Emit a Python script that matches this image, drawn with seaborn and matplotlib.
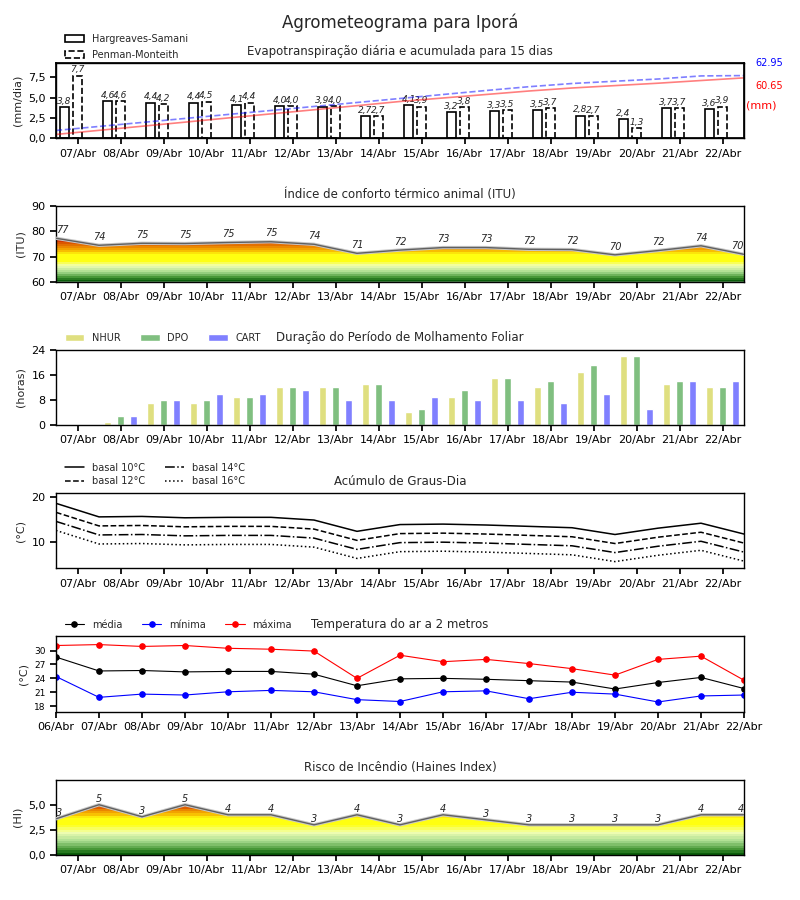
import numpy as np
import pandas as pd
import matplotlib
matplotlib.use('Agg')
import matplotlib.pyplot as plt
import seaborn as sns
from matplotlib.patches import Rectangle, PathPatch
from matplotlib.colors import LinearSegmentedColormap
from matplotlib.ticker import FuncFormatter

# dates
dias_bar = ['07/Abr', '08/Abr', '09/Abr', '10/Abr', '11/Abr', '12/Abr', '13/Abr', '14/Abr',
            '15/Abr', '16/Abr', '17/Abr', '18/Abr', '19/Abr', '20/Abr', '21/Abr', '22/Abr']
dias_temp = ['06/Abr'] + dias_bar

# evapotranspiration (mm/dia) and accumulated (mm)
et_hs = [3.8, 4.6, 4.4, 4.4, 4.1, 4.0, 3.9, 2.7, 4.1, 3.2, 3.3, 3.5, 2.8, 2.4, 3.7, 3.6]
et_pm = [7.7, 4.6, 4.2, 4.5, 4.4, 4.0, 4.0, 2.7, 3.9, 3.8, 3.5, 3.7, 2.7, 1.3, 3.7, 3.9]
acum_hs = [4.0, 8.1, 12.2, 16.3, 20.5, 24.6, 28.7, 32.8, 37.0, 40.5, 44.0, 47.5, 50.5,
           52.9, 55.3, 58.0, 60.65]
acum_pm = [8.0, 12.0, 16.0, 20.0, 24.0, 28.0, 32.0, 36.0, 40.0, 44.0, 48.0, 51.8, 55.0,
           57.3, 59.5, 62.6, 62.95]

# thermal comfort index
itu = [77.3, 74.5, 75.3, 75.2, 75.6, 75.9, 74.9, 71.3, 72.6, 73.6, 73.6, 72.9, 72.8,
       70.7, 72.4, 74.3, 70.9]

# leaf wetness (horas)
nhur = [0, 1, 7, 7, 9, 12, 12, 13, 4, 9, 15, 12, 17, 22, 13, 12]
dpo = [0, 3, 8, 8, 9, 12, 12, 13, 5, 11, 15, 14, 19, 22, 14, 12]
cart = [0, 3, 8, 10, 10, 11, 8, 8, 9, 8, 8, 7, 10, 5, 14, 14]

# degree days
gd10 = [18.6, 15.6, 15.7, 15.4, 15.5, 15.5, 14.9, 12.4, 13.9, 14.0, 13.8, 13.5, 13.2, 11.7, 13.1, 14.2, 11.8]
gd12 = [16.6, 13.6, 13.7, 13.4, 13.5, 13.5, 12.9, 10.4, 11.9, 12.0, 11.8, 11.5, 11.2, 9.7, 11.1, 12.2, 9.8]
gd14 = [14.6, 11.6, 11.7, 11.4, 11.5, 11.5, 10.9, 8.4, 9.9, 10.0, 9.8, 9.5, 9.2, 7.7, 9.1, 10.2, 7.8]
gd16 = [12.6, 9.6, 9.7, 9.4, 9.5, 9.5, 8.9, 6.4, 7.9, 8.0, 7.8, 7.5, 7.2, 5.7, 7.1, 8.2, 5.8]

# air temperature
t_med = [28.6, 25.6, 25.7, 25.4, 25.5, 25.5, 24.9, 22.4, 23.9, 24.0, 23.8, 23.5, 23.2, 21.7, 23.1, 24.2, 21.8]
t_min = [24.4, 19.9, 20.6, 20.4, 21.1, 21.4, 21.1, 19.4, 19.0, 21.1, 21.3, 19.6, 21.0, 20.6, 18.9, 20.2, 20.4]
t_max = [31.1, 31.3, 30.9, 31.1, 30.5, 30.3, 29.9, 24.0, 29.0, 27.6, 28.1, 27.2, 26.1, 24.7, 28.1, 28.8, 23.6]

# Haines index
haines = [3.6, 5.0, 3.8, 5.0, 4.0, 4.0, 3.0, 4.0, 3.0, 4.0, 3.5, 3.0, 3.0, 3.0, 3.0, 4.0, 4.0]

sns.set_theme(style='ticks')
plt.rcParams['font.family'] = ['DejaVu Sans']
plt.rcParams['axes.edgecolor'] = 'black'
plt.rcParams['xtick.color'] = 'black'
plt.rcParams['ytick.color'] = 'black'

comma = FuncFormatter(lambda v, p: f'{v:.1f}'.replace('.', ','))
TFS = 8.5
LFS = 8

fig, axes = plt.subplots(6, 1, figsize=(8, 9))
fig.subplots_adjust(left=0.07, right=0.93, top=0.93, bottom=0.05, hspace=0.9)
fig.suptitle('Agrometeograma para Iporá', fontsize=12, y=0.985)

xb = np.arange(len(dias_bar))
xl = np.arange(len(dias_temp)) - 0.5


def style_ax(ax, labels):
    ax.set_xticks(np.arange(len(labels)))
    ax.set_xticklabels(labels)
    ax.tick_params(labelsize=LFS, length=4)
    for s in ax.spines.values():
        s.set_linewidth(1.0)


# --- 1: evapotranspiration
ax = axes[0]
ax.bar(xb - 0.3, et_hs, width=0.22, facecolor='white', edgecolor='black', linewidth=1.2, zorder=2)
ax.bar(xb, et_pm, width=0.22, facecolor='white', edgecolor='black', linewidth=1.2, linestyle='--', zorder=2)
for i in range(len(xb)):
    ax.text(xb[i] - 0.3, et_hs[i] + 0.15, f'{et_hs[i]:.1f}'.replace('.', ','), ha='center',
            va='bottom', fontsize=6.5, style='italic')
    ax.text(xb[i], et_pm[i] + 0.15, f'{et_pm[i]:.1f}'.replace('.', ','), ha='center',
            va='bottom', fontsize=6.5, style='italic')
ax.set_ylim(0, max(et_pm) * 1.2)
ax.set_xlim(-0.5, 15.5)
ax.set_yticks([0, 2.5, 5.0, 7.5])
ax.yaxis.set_major_formatter(comma)
ax.set_ylabel('(mm/dia)', fontsize=LFS)
ax.set_title('Evapotranspiração diária e acumulada para 15 dias', fontsize=TFS)
style_ax(ax, dias_bar)
ax2 = ax.twinx()
sns.lineplot(x=xl, y=acum_hs, ax=ax2, color='red', alpha=0.5, linewidth=1.2)
sns.lineplot(x=xl, y=acum_pm, ax=ax2, color='blue', alpha=0.5, linewidth=1.2, linestyle='--')
ax2.set_ylim(0, max(acum_pm) * 1.2)
ax2.set_yticks([])
ax2.set_xlim(-0.5, 15.5)
ax.text(1.017, 1.0, f'{acum_pm[-1]:.2f}', color='blue', fontsize=7, transform=ax.transAxes, va='center')
ax.text(1.017, 0.69, f'{acum_hs[-1]:.2f}', color='red', fontsize=7, transform=ax.transAxes, va='center')
ax.text(1.003, 0.44, '(mm)', color='red', fontsize=8, transform=ax.transAxes, va='center')
h1 = Rectangle((0, 0), 1, 1, facecolor='white', edgecolor='black', linewidth=1.2)
h2 = Rectangle((0, 0), 1, 1, facecolor='white', edgecolor='black', linewidth=1.2, linestyle='--')
ax.legend([h1, h2], ['Hargreaves-Samani', 'Penman-Monteith'], loc='lower left',
          bbox_to_anchor=(0, 0.93), frameon=False, fontsize=7, labelspacing=0.6)

# gradient colours, from bottom to top
grad_colors = ['#0b5e0b', '#4a9a3a', '#a8dc90', '#f2ffb4', '#ffff10', '#ffff10',
               '#f8b800', '#ec8a00', '#dc5800', '#cc1800']


def gradient_fill(ax, x, y, ybot, stops):
    top = max(y)
    fr = [(s - ybot) / (top - ybot) for s in stops]
    cmap = LinearSegmentedColormap.from_list('g', list(zip(fr, grad_colors))).resampled(22)
    poly = ax.fill_between(x, ybot, y, facecolor='none', edgecolor='none')
    path = poly.get_paths()[0]
    patch = PathPatch(path, facecolor='none', edgecolor='none', transform=ax.transData)
    ax.add_patch(patch)
    grad = np.linspace(0, 1, 256).reshape(-1, 1)
    im = ax.imshow(grad, extent=[x[0], x[-1], ybot, top], aspect='auto', origin='lower',
                   cmap=cmap, interpolation='nearest', zorder=1)
    im.set_clip_path(patch)
    sns.lineplot(x=x, y=y, ax=ax, color='#c8c8c8', linewidth=2.4, zorder=3)
    sns.lineplot(x=x, y=y, ax=ax, color='#606060', linewidth=1.0, zorder=4)


def point_labels(ax, x, y, off):
    n = len(y)
    for i in range(n):
        ha = 'left' if i == 0 else ('right' if i == n - 1 else 'center')
        ax.text(x[i], y[i] + off, str(int(y[i])), ha=ha, va='bottom', fontsize=7, style='italic')


# --- 2: ITU
ax = axes[1]
gradient_fill(ax, xl, itu, 60, [60, 61.7, 63.7, 66.3, 68.3, 71.0, 72.5, 74.0, 75.6, 77.3])
point_labels(ax, xl, itu, 1.3)
ax.set_xlim(-0.5, 15.5)
ax.set_ylim(60, 90)
ax.set_yticks([60, 70, 80, 90])
ax.set_ylabel('(ITU)', fontsize=LFS)
ax.set_title('Índice de conforto térmico animal (ITU)', fontsize=TFS)
style_ax(ax, dias_bar)

# --- 3: leaf wetness
ax = axes[2]
df_m = pd.DataFrame({
    'dia': dias_bar * 3,
    'horas': nhur + dpo + cart,
    'indice': ['NHUR'] * 16 + ['DPO'] * 16 + ['CART'] * 16,
})
sns.barplot(data=df_m, x='dia', y='horas', hue='indice', ax=ax, width=0.9, gap=0.5,
            palette=['#dfdf80', '#80bf80', '#8080ff'], saturation=1, errorbar=None)
ax.set_xlim(-0.5, 15.5)
ax.set_ylim(0, 24)
ax.set_yticks([0, 8, 16, 24])
ax.set_xlabel('')
ax.set_ylabel('(horas)', fontsize=LFS)
ax.set_title('Duração do Período de Molhamento Foliar', fontsize=TFS)
style_ax(ax, dias_bar)
h, l = ax.get_legend_handles_labels()
ax.legend(h, l, loc='lower left', bbox_to_anchor=(0, 0.97), ncol=3, frameon=False, fontsize=7)

# --- 4: degree days
ax = axes[3]
for vals, ls, lab in [(gd10, '-', 'basal 10°C'), (gd12, '--', 'basal 12°C'),
                      (gd14, '-.', 'basal 14°C'), (gd16, ':', 'basal 16°C')]:
    sns.lineplot(x=xl, y=vals, ax=ax, color='black', linestyle=ls, linewidth=1.1, label=lab)
ax.set_xlim(-0.5, 15.5)
ax.set_ylim(4.2, 20.9)
ax.set_yticks([10, 20])
ax.set_ylabel('(°C)', fontsize=LFS)
ax.set_title('Acúmulo de Graus-Dia', fontsize=TFS)
style_ax(ax, dias_bar)
ax.legend(loc='lower left', bbox_to_anchor=(0, 0.97), ncol=2, frameon=False, fontsize=7,
          labelspacing=0.4)

# --- 5: temperature
ax = axes[4]
xt = np.arange(len(dias_temp))
for vals, c, lab in [(t_med, 'black', 'média'), (t_min, 'blue', 'mínima'), (t_max, 'red', 'máxima')]:
    sns.lineplot(x=xt, y=vals, ax=ax, color=c, linewidth=0.8, marker='o', markersize=4,
                 markeredgecolor=c, label=lab)
ax.set_xlim(0, 16)
ax.set_ylim(16.8, 33.1)
ax.set_yticks([18, 21, 24, 27, 30])
ax.set_ylabel('(°C)', fontsize=LFS)
ax.set_title('Temperatura do ar a 2 metros', fontsize=TFS)
style_ax(ax, dias_temp)
ax.tick_params(axis='y', labelsize=6.5)
ax.legend(loc='lower left', bbox_to_anchor=(0, 0.97), ncol=3, frameon=False, fontsize=7)

# --- 6: Haines
ax = axes[5]
gradient_fill(ax, xl, haines, 0, [0, 0.5, 1.3, 2.2, 3.0, 3.7, 4.1, 4.5, 4.8, 5.0])
point_labels(ax, xl, haines, 0.1)
ax.set_xlim(-0.5, 15.5)
ax.set_ylim(0, 7.5)
ax.set_yticks([0, 2.5, 5.0])
ax.yaxis.set_major_formatter(comma)
ax.set_ylabel('(HI)', fontsize=LFS)
ax.set_title('Risco de Incêndio (Haines Index)', fontsize=TFS)
style_ax(ax, dias_bar)

fig.savefig('out.png', dpi=100)
